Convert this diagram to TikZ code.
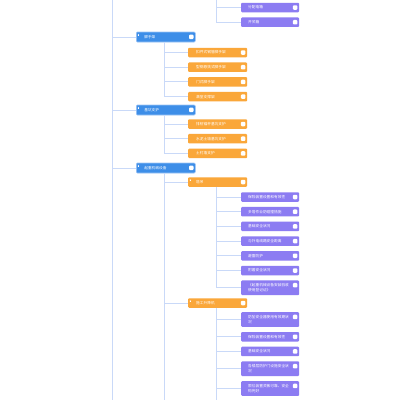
\documentclass[tikz,border=0pt]{standalone}
\usepackage{fontspec}
\newfontfamily\cjk{Noto Sans CJK SC}
\usepackage{tikz}
\usetikzlibrary{positioning}

\definecolor{topicBlue}{HTML}{3D8EE8}
\definecolor{topicEdge}{HTML}{9CC4F5}
\definecolor{subOrange}{HTML}{FAA73A}
\definecolor{leafPurple}{HTML}{8C7CF2}
\definecolor{linkBlue}{HTML}{C9D9F8}

\tikzset{
  box/.style={rectangle, rounded corners=1pt, anchor=west, text=white,
    inner ysep=1pt, align=left, minimum height=9.5pt,
    font=\cjk\fontsize{3.7}{4.9}\selectfont,
    path picture={\fill[white]
      ([xshift=-6.3pt,yshift=-2.5pt]path picture bounding box.north east)
      rectangle ++(4.5pt,-4.5pt);}},
  topicbox/.style={box, fill=topicBlue, draw=topicEdge, line width=0.6pt,
    minimum height=10pt, inner xsep=8pt, text width=43pt},
  subbox/.style={box, fill=subOrange, inner xsep=8pt, text width=43pt},
  leafbox/.style={box, fill=leafPurple, inner xsep=7pt, text width=44pt},
  twoline/.style={minimum height=14.6pt},
  link/.style={draw=linkBlue, line width=0.9pt},
  markline/.style={draw=white, line width=0.3pt}
}

% small fold mark in the upper left corner of a node
\newcommand{\foldmark}[1]{%
  \draw[markline] ([shift={(2.4pt,-3pt)}]#1.north west) ++(-0.8pt,0) -- ++(1.6pt,0);
  \draw[markline] ([shift={(2.4pt,-3pt)}]#1.north west) ++(-0.5pt,-0.7pt) -- ++(1pt,1.4pt);
  \draw[markline] ([shift={(2.4pt,-3pt)}]#1.north west) ++(0.5pt,-0.7pt) -- ++(-1pt,1.4pt);
}

\begin{document}
\begin{tikzpicture}[x=1pt, y=-1pt]
\useasboundingbox (0,0) rectangle (400,400);
\fill[white] (0,0) rectangle (400,400);
\clip (0,0) rectangle (400,400);

% ---- level 1: topics ----
\node[topicbox] (scaf) at (136,37) {脚手架};
\node[topicbox] (pit) at (136,110) {基坑支护};
\node[topicbox] (crane) at (136,168) {起重机械设备};

% ---- level 2 ----
\node[subbox] (scaf1) at (188,52.5) {扣件式钢管脚手架};
\node[subbox, below=4.8pt of scaf1] (scaf2) {型钢悬挑式脚手架};
\node[subbox, below=4.8pt of scaf2] (scaf3) {门式脚手架};
\node[subbox, below=4.8pt of scaf3] (scaf4) {满堂支撑架};

\node[subbox] (pit1) at (188,124) {排桩锚杆基坑支护};
\node[subbox, below=4.8pt of pit1] (pit2) {水泥土墙基坑支护};
\node[subbox, below=4.8pt of pit2] (pit3) {土钉墙支护};

\node[subbox] (tower) at (188,182) {塔吊};
\node[subbox] (hoist) at (188,303) {施工升降机};

% ---- level 3 ----
\node[leafbox] (elec1) at (241,7.5) {分配电箱};
\node[leafbox, below=4.8pt of elec1] (elec2) {开关箱};

\node[leafbox] (tw1) at (241,197) {保险装置设置和有效性};
\node[leafbox, below=4.8pt of tw1] (tw2) {多塔作业防碰撞措施};
\node[leafbox, below=4.8pt of tw2] (tw3) {基础安全状况};
\node[leafbox, below=4.8pt of tw3] (tw4) {与外电线路安全距离};
\node[leafbox, below=4.8pt of tw4] (tw5) {避雷防护};
\node[leafbox, below=4.8pt of tw5] (tw6) {附着安全状况};
\node[leafbox, twoline, below=4.8pt of tw6] (tw7) {《起重机械设备安装验收\\使用登记证》};

\node[leafbox, twoline] (ho1) at (241,319.5) {防坠安全器使用有效期状\\况};
\node[leafbox, below=4.8pt of ho1] (ho2) {保险装置设置和有效性};
\node[leafbox, below=4.8pt of ho2] (ho3) {基础安全状况};
\node[leafbox, twoline, below=4.8pt of ho3] (ho4) {各楼层防护门设施安全状\\况};
\node[leafbox, twoline, below=4.8pt of ho4] (ho5) {限位装置灵敏可靠、安全\\钩完好};
\node[leafbox, below=4.8pt of ho5] (ho6) {};

\foldmark{scaf}
\foldmark{pit}
\foldmark{crane}
\foldmark{tower}
\foldmark{hoist}

% ---- connectors ----
\coordinate (rootTop) at (112,0);
\coordinate (rootEnd) at (112,400);
\draw[link] (rootTop) -- (rootEnd);
\foreach \t in {scaf,pit,crane}
  \draw[link] (rootTop |- \t.west) -- (\t.west);

\foreach \c in {scaf1,scaf2,scaf3,scaf4}
  \draw[link] ([xshift=28pt]scaf.south west) |- (\c.west);
\foreach \c in {pit1,pit2,pit3}
  \draw[link] ([xshift=28pt]pit.south west) |- (\c.west);
\coordinate (craneEnd) at (164,400);
\draw[link] ([xshift=28pt]crane.south west) -- (craneEnd);
\foreach \c in {tower,hoist}
  \draw[link] ([xshift=28pt]crane.south west) |- (\c.west);

\coordinate (elecTop) at (216,0);
\foreach \c in {elec1,elec2}
  \draw[link] (elecTop) |- (\c.west);
\foreach \c in {tw1,tw2,tw3,tw4,tw5,tw6,tw7}
  \draw[link] ([xshift=28pt]tower.south west) |- (\c.west);
\coordinate (hoistEnd) at (216,400);
\draw[link] ([xshift=28pt]hoist.south west) -- (hoistEnd);
\foreach \c in {ho1,ho2,ho3,ho4,ho5,ho6}
  \draw[link] ([xshift=28pt]hoist.south west) |- (\c.west);

\end{tikzpicture}
\end{document}
